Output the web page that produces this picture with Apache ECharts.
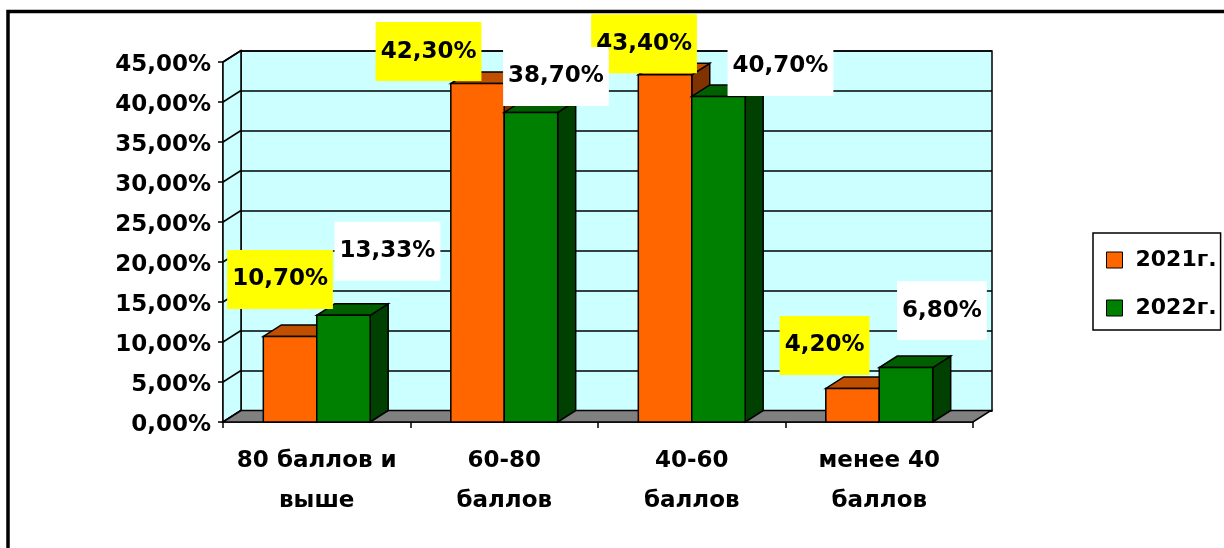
<!DOCTYPE html>
<html><head><meta charset="utf-8">
<script src="https://cdn.jsdelivr.net/npm/echarts@6/dist/echarts.min.js"></script>
<style>html,body{margin:0;padding:0;background:#fff}#c{width:1224px;height:548px}</style>
</head><body><div id="c"></div>
<script>
// ---- data ----
const categories = ['80 баллов и\nвыше', '60-80\nбаллов', '40-60\nбаллов', 'менее 40\nбаллов'];
const seriesNames = ['2021г.', '2022г.'];
const values2021 = [10.70, 42.30, 43.40, 4.20];
const values2022 = [13.33, 38.70, 40.70, 6.80];
const yTicks = [0, 5, 10, 15, 20, 25, 30, 35, 40, 45];

// ---- layout / style ----
const DX = 18, DY = -11.5;           // pseudo-3D depth offset
const BAR_FRACTION = 0.285;          // bar width relative to category band
const labelOffsets2021 = [[-10, -57], [-49, -32], [-21, -31], [-28, -43]];
const labelOffsets2022 = [[44, -64], [25, -36], [62, -30], [36, -57]];
const FONT = '"DejaVu Sans", sans-serif';
const colors2021 = { front: '#FF6600', top: '#C04F00', side: '#803300' };
const colors2022 = { front: '#008000', top: '#006000', side: '#004000' };

const fmt = v => v.toFixed(2).replace('.', ',') + '%';

function barRenderer(side, col) {
  return function (params, api) {
    const cat = api.value(0), v = api.value(1);
    const band = api.size([1, 0])[0];
    const bw = band * BAR_FRACTION;
    const c = api.coord([cat, v]);
    const b = api.coord([cat, 0]);
    const x0 = side < 0 ? c[0] - bw : c[0];
    const x1 = x0 + bw;
    const yT = c[1], yB = b[1];
    const st = f => ({ fill: f, stroke: '#000', lineWidth: 1.5 });
    return {
      type: 'group', children: [
        { type: 'polygon', shape: { points: [[x1, yB], [x1 + DX, yB + DY], [x1 + DX, yT + DY], [x1, yT]] }, style: st(col.side) },
        { type: 'polygon', shape: { points: [[x0, yT], [x1, yT], [x1 + DX, yT + DY], [x0 + DX, yT + DY]] }, style: st(col.top) },
        { type: 'rect', shape: { x: x0, y: yT, width: bw, height: yB - yT }, style: st(col.front) }
      ]
    };
  };
}

function labelRenderer(side, offsets, bg) {
  return function (params, api) {
    const i = params.dataIndex;
    const cat = api.value(0), v = api.value(1);
    const band = api.size([1, 0])[0];
    const bw = band * BAR_FRACTION;
    const c = api.coord([cat, v]);
    const cx = c[0] + side * bw / 2 + offsets[i][0];
    const cy = c[1] + offsets[i][1];
    return {
      type: 'text',
      style: {
        text: fmt(v), x: cx, y: cy, align: 'center', verticalAlign: 'middle',
        fontFamily: FONT, fontWeight: 'bold', fontSize: 23, lineHeight: 23,
        fill: '#000', backgroundColor: bg, padding: [18, 5, 18, 5]
      }
    };
  };
}

function wallRenderer(params, api) {
  const cs = params.coordSys;
  const L = cs.x, R = cs.x + cs.width, T = cs.y, B = cs.y + cs.height;
  const children = [];
  children.push({ type: 'polygon', shape: { points: [[L, B], [L, T], [L + DX, T + DY], [L + DX, B + DY]] },
    style: { fill: '#CCFFFF', stroke: '#000', lineWidth: 1.5 } });
  yTicks.forEach(t => {
    const y = api.coord([0, t])[1];
    children.push({ type: 'line', shape: { x1: L, y1: y, x2: L + DX, y2: y + DY }, style: { stroke: '#000', lineWidth: 1.5 } });
  });
  children.push({ type: 'polygon', shape: { points: [[L, B], [R, B], [R + DX, B + DY], [L + DX, B + DY]] },
    style: { fill: '#808080', stroke: '#000', lineWidth: 1.5 } });
  return { type: 'group', children };
}

const chart = echarts.init(document.getElementById('c'), null, { renderer: 'canvas' });
const axisFont = { fontFamily: FONT, fontWeight: 'bold', fontSize: 23, color: '#000' };
chart.setOption({
  animation: false,
  backgroundColor: '#fff',
  graphic: [{ type: 'rect', z: -1, shape: { x: 8, y: 11.5, width: 1400, height: 800 },
    style: { fill: 'none', stroke: '#000', lineWidth: 3.5 } }],
  legend: {
    orient: 'vertical', left: 1093, top: 233,
    data: seriesNames.map((n, k) => ({ name: n, icon: 'rect',
      itemStyle: { color: k === 0 ? colors2021.front : colors2022.front, borderColor: '#000', borderWidth: 1 } })),
    itemWidth: 16, itemHeight: 16, itemGap: 20,
    padding: [13, 4, 8, 13],
    borderColor: '#000', borderWidth: 1.5,
    textStyle: Object.assign({}, axisFont, { fontSize: 22, lineHeight: 28, padding: [0, 0, 0, 8] })
  },
  grid: [
    { left: 241, top: 51, width: 751, height: 360, show: true, backgroundColor: '#CCFFFF', borderColor: '#000', borderWidth: 1.5 },
    { left: 223, top: 62, width: 750, height: 360, show: false }
  ],
  xAxis: [
    { gridIndex: 0, type: 'category', data: categories, show: false },
    { gridIndex: 1, type: 'category', data: categories,
      axisLine: { show: true, lineStyle: { color: '#000', width: 1.5 } },
      axisTick: { show: true, length: 6, lineStyle: { color: '#000', width: 1.5 } },
      axisLabel: Object.assign({}, axisFont, { lineHeight: 40, margin: 19, interval: 0 }),
      splitLine: { show: false } }
  ],
  yAxis: [
    { gridIndex: 0, type: 'value', min: 0, max: 45, interval: 5,
      axisLine: { show: false }, axisTick: { show: false }, axisLabel: { show: false },
      splitLine: { show: true, lineStyle: { color: '#000', width: 1.5 } } },
    { gridIndex: 1, type: 'value', min: 0, max: 45, interval: 5,
      axisLine: { show: true, lineStyle: { color: '#000', width: 1.5 } },
      axisTick: { show: true, length: 5, lineStyle: { color: '#000', width: 1.5 } },
      axisLabel: Object.assign({}, axisFont, { margin: 12, formatter: v => fmt(v), verticalAlign: 'top', lineHeight: 6 }),
      splitLine: { show: false } }
  ],
  series: [
    { name: 'walls', type: 'custom', xAxisIndex: 1, yAxisIndex: 1, z: 1, silent: true,
      renderItem: wallRenderer, data: [[0, 0]], encode: { x: 0, y: 1 } },
    { name: seriesNames[0], type: 'custom', xAxisIndex: 1, yAxisIndex: 1, z: 2,
      itemStyle: { color: colors2021.front },
      renderItem: barRenderer(-1, colors2021), data: values2021.map((v, i) => [i, v]), encode: { x: 0, y: 1 } },
    { name: seriesNames[1], type: 'custom', xAxisIndex: 1, yAxisIndex: 1, z: 3,
      itemStyle: { color: colors2022.front },
      renderItem: barRenderer(1, colors2022), data: values2022.map((v, i) => [i, v]), encode: { x: 0, y: 1 } },
    { name: 'labels2021', type: 'custom', xAxisIndex: 1, yAxisIndex: 1, z: 5,
      renderItem: labelRenderer(-1, labelOffsets2021, '#FFFF00'), data: values2021.map((v, i) => [i, v]), encode: { x: 0, y: 1 } },
    { name: 'labels2022', type: 'custom', xAxisIndex: 1, yAxisIndex: 1, z: 5,
      renderItem: labelRenderer(1, labelOffsets2022, '#FFFFFF'), data: values2022.map((v, i) => [i, v]), encode: { x: 0, y: 1 } }
  ]
});
</script></body></html>
